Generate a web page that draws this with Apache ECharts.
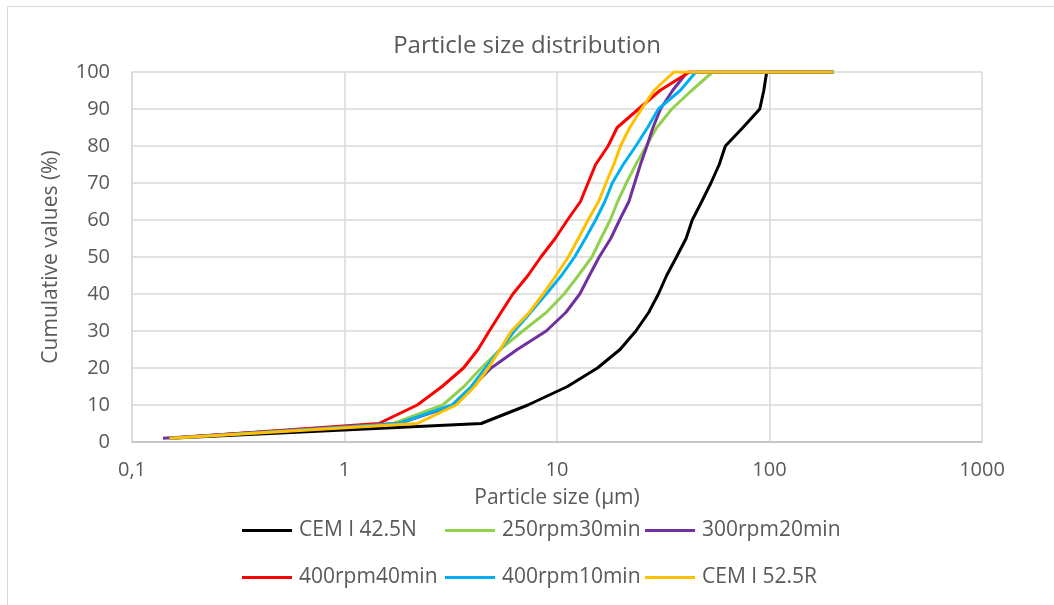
<!DOCTYPE html>
<html>
<head>
<meta charset="utf-8">
<script src="https://cdn.jsdelivr.net/npm/echarts@6/dist/echarts.min.js"></script>
<style>
  html, body { margin: 0; padding: 0; background: #fff; }
  #main { width: 1054px; height: 605px; }
</style>
</head>
<body>
<div id="main"></div>
<script>
// cumulative levels (%) at which each size was read
const levels = [1, 5, 10, 15, 20, 25, 30, 35, 40, 45, 50, 55, 60, 65, 70, 75, 80, 85, 90, 95, 100]
// particle sizes (µm) for each level
const cem425N = [0.15, 4.4, 7.3, 11.2, 15.5, 19.8, 23.5, 27, 30, 32.8, 36.5, 40.5, 43.3, 48, 53, 58, 62, 75, 90, 94, 97]
const rpm250m30 = [0.15, 1.7, 2.9, 3.65, 4.4, 5.4, 6.9, 8.9, 10.8, 12.6, 14.6, 16.1, 17.8, 19.3, 21.2, 23.5, 26.3, 29.5, 34.7, 43, 54]
const rpm300m20 = [0.14, 1.8, 3.3, 4.0, 4.9, 6.5, 8.9, 11.0, 12.8, 14.2, 15.8, 17.9, 19.7, 21.8, 23.2, 24.7, 26.5, 28.3, 30.7, 35, 41]
const rpm400m40 = [0.15, 1.45, 2.2, 2.88, 3.63, 4.25, 4.8, 5.45, 6.2, 7.3, 8.4, 9.8, 11.2, 12.9, 14.0, 15.2, 17.4, 19.2, 24.2, 30.5, 42]
const rpm400m10 = [0.15, 1.8, 3.2, 3.95, 4.6, 5.4, 6.3, 7.5, 8.9, 10.5, 12.1, 13.6, 15.2, 16.8, 18.2, 20.5, 23.5, 26.7, 30, 38, 45]
const cem525R = [0.15, 2.2, 3.35, 4.1, 4.75, 5.4, 6.1, 7.4, 8.6, 9.9, 11.3, 12.6, 14, 15.7, 17, 18.5, 19.9, 22, 25, 28.6, 35.5]
// last point of every curve
const endSize = 200
const yTicks = [0, 10, 20, 30, 40, 50, 60, 70, 80, 90, 100]

const seriesDefs = [
  { name: 'CEM I 42.5N', sizes: cem425N, color: '#000000' },
  { name: '250rpm30min', sizes: rpm250m30, color: '#92d050' },
  { name: '300rpm20min', sizes: rpm300m20, color: '#7030a0' },
  { name: '400rpm40min', sizes: rpm400m40, color: '#ff0000' },
  { name: '400rpm10min', sizes: rpm400m10, color: '#00b0f0' },
  { name: 'CEM I 52.5R', sizes: cem525R, color: '#ffc000' },
]

const textColor = '#595959'
const font = '"Open Sans", "Noto Sans", sans-serif'

const legendPos = [
  { left: 242, top: 520 }, { left: 445, top: 520 }, { left: 645, top: 520 },
  { left: 242, top: 567 }, { left: 445, top: 567 }, { left: 645, top: 567 },
]

const chart = echarts.init(document.getElementById('main'))
chart.setOption({
  animation: false,
  textStyle: { fontFamily: font },
  title: {
    text: 'Particle size distribution',
    left: 'center',
    top: 29,
    textStyle: { color: textColor, fontSize: 24, fontWeight: 'normal', fontFamily: font },
  },
  graphic: [{
    type: 'rect',
    shape: { x: 7.5, y: 6.5, width: 1070, height: 620 },
    style: { fill: 'none', stroke: '#d9d9d9', lineWidth: 1 },
    silent: true,
  }],
  grid: { left: 132, right: 72, top: 72, bottom: 163 },
  legend: seriesDefs.map((s, i) => ({
    data: [s.name],
    left: legendPos[i].left,
    top: legendPos[i].top,
    padding: 0,
    icon: 'rect',
    itemWidth: 50,
    itemHeight: 3,
    itemGap: 0,
    textStyle: { color: textColor, fontSize: 21, fontFamily: font, padding: [0, 0, 0, 2] },
  })),
  xAxis: {
    type: 'log',
    logBase: 10,
    min: 0.1,
    max: 1000,
    name: 'Particle size (µm)',
    nameLocation: 'middle',
    nameGap: 46,
    nameTextStyle: { color: textColor, fontSize: 21, fontFamily: font },
    axisLine: { lineStyle: { color: '#bfbfbf', width: 1.5 } },
    axisTick: { show: false },
    splitLine: { show: true, lineStyle: { color: '#d9d9d9', width: 1.5 } },
    minorTick: { show: false },
    axisLabel: {
      color: textColor, fontSize: 20, margin: 18,
      formatter: v => String(v).replace('.', ','),
    },
  },
  yAxis: {
    type: 'value',
    min: yTicks[0],
    max: yTicks[yTicks.length - 1],
    interval: 10,
    name: 'Cumulative values (%)',
    nameLocation: 'middle',
    nameGap: 70,
    nameTextStyle: { color: textColor, fontSize: 21, fontFamily: font },
    axisLine: { show: true, lineStyle: { color: '#d9d9d9', width: 1.5 } },
    axisTick: { show: false },
    splitLine: { lineStyle: { color: '#d9d9d9', width: 1.5 } },
    axisLabel: { color: textColor, fontSize: 20, margin: 22 },
  },
  series: seriesDefs.map(s => ({
    name: s.name,
    type: 'line',
    showSymbol: false,
    symbol: 'none',
    lineStyle: { color: s.color, width: 3 },
    itemStyle: { color: s.color },
    data: s.sizes.map((x, i) => [x, levels[i]]).concat([[endSize, 100]]),
  })),
})
</script>
</body>
</html>
